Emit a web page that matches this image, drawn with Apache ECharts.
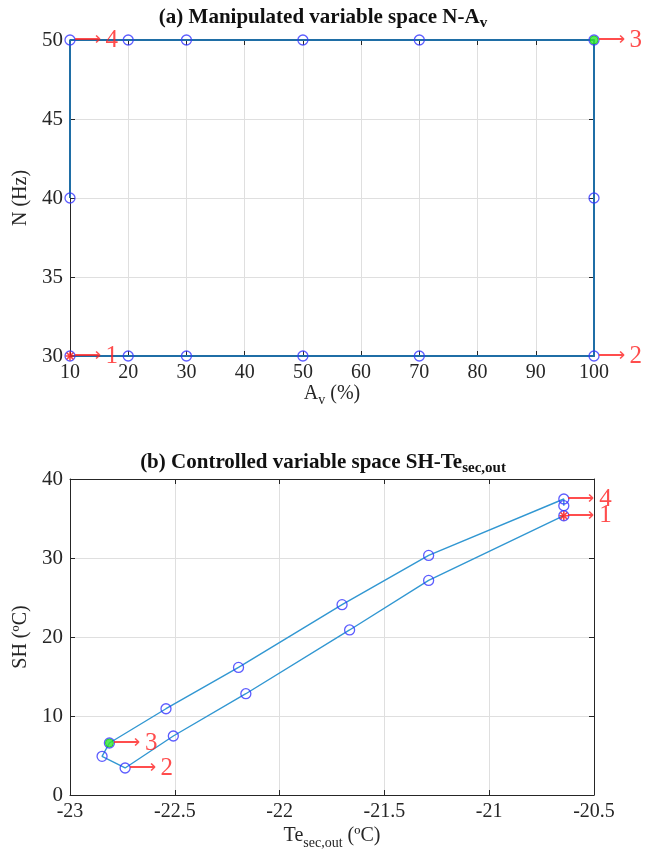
<!DOCTYPE html>
<html>
<head>
<meta charset="utf-8">
<script src="https://cdn.jsdelivr.net/npm/echarts@6/dist/echarts.min.js"></script>
<style>
  html, body { margin: 0; background: #fff; }
  #chart { width: 646px; height: 866px; }
</style>
</head>
<body>
<div id="chart"></div>
<script>
// (a) manipulated variable path, N-Av
var avValues = [10, 20, 30, 50, 70, 100, 100, 100, 70, 50, 30, 20, 10, 10];
var nValues = [30, 30, 30, 30, 30, 30, 40, 50, 50, 50, 50, 50, 50, 40];
var avTicks = [10, 20, 30, 40, 50, 60, 70, 80, 90, 100];
var nTicks = [30, 35, 40, 45, 50];

// (b) controlled variable path, SH-Te_sec,out
var teValues = [-20.644, -21.289, -21.666, -22.161, -22.507, -22.737, -22.847,
  -22.812, -22.542, -22.196, -21.702, -21.289, -20.644, -20.644];
var shValues = [35.35, 27.16, 20.89, 12.82, 7.47, 3.42, 4.89,
  6.58, 10.92, 16.15, 24.09, 30.33, 37.47, 36.62];
var teTicks = [-23, -22.5, -22, -21.5, -21, -20.5];
var shTicks = [0, 10, 20, 30, 40];

// corner numbers (index into the paths above)
var cornerIdxA = [0, 5, 7, 12];
var cornerIdxB = [0, 5, 7, 12];
var cornerNames = ["1", "2", "3", "4"];

var SERIF = "Liberation Serif";
var INK = "#262626";
var LINE_A = "#1f6ea6";
var LINE_B = "#3197d2";
var MARK = "#3535ff";

function zip(xs, ys) {
  return xs.map(function (x, i) { return [x, ys[i]]; });
}

var star = "path://M0,-5L0,5M-5,0L5,0M-3.6,-3.6L3.6,3.6M-3.6,3.6L3.6,-3.6";

var labelRich = {
  a: { fontFamily: "DejaVu Sans", fontSize: 19, color: "#ff2020", fontWeight: "lighter" },
  n: { fontFamily: SERIF, fontSize: 25, color: "#ff2020", padding: [0, 0, 0, 5] }
};

function baseAxisX(grid, ticks, name) {
  return {
    type: "value", gridIndex: grid, position: "bottom",
    min: ticks[0], max: ticks[ticks.length - 1], interval: ticks[1] - ticks[0],
    name: name, nameLocation: "middle",
    axisLine: { show: true, onZero: false, lineStyle: { color: INK, width: 1 } },
    axisTick: { show: true, inside: true, length: 5, lineStyle: { color: INK } },
    axisLabel: { fontFamily: SERIF, fontSize: 20, color: INK, margin: 7 },
    splitLine: { show: true, lineStyle: { color: "#dfdfdf", width: 1 } }
  };
}
function baseAxisY(grid, ticks, name) {
  return {
    type: "value", gridIndex: grid, position: "left",
    min: ticks[0], max: ticks[ticks.length - 1], interval: ticks[1] - ticks[0],
    name: name, nameLocation: "middle", nameRotate: 90,
    axisLine: { show: true, onZero: false, lineStyle: { color: INK, width: 1 } },
    axisTick: { show: true, inside: true, length: 5, lineStyle: { color: INK } },
    axisLabel: { fontFamily: SERIF, fontSize: 21, color: INK, margin: 7 },
    splitLine: { show: true, lineStyle: { color: "#dfdfdf", width: 1 } }
  };
}
function mirror(axis, pos) {
  var m = Object.assign({}, axis);
  m.position = pos;
  m.name = "";
  m.axisLabel = { show: false };
  m.splitLine = { show: false };
  return m;
}

var xA = baseAxisX(0, avTicks, "{m|A}{s|v}{m| (%)}");
xA.nameGap = 19;
xA.nameTextStyle = { rich: {
  m: { fontFamily: SERIF, fontSize: 20, color: INK },
  s: { fontFamily: SERIF, fontSize: 14, color: INK, padding: [12, 0, 0, 0] }
} };
var yA = baseAxisY(0, nTicks, "N (Hz)");
yA.nameGap = 37;
yA.nameTextStyle = { fontFamily: SERIF, fontSize: 20, color: INK };

var xB = baseAxisX(1, teTicks, "{m|Te}{s|sec,out}{m| (ºC)}");
xB.nameGap = 27;
xB.nameTextStyle = { rich: {
  m: { fontFamily: SERIF, fontSize: 20, color: INK },
  s: { fontFamily: SERIF, fontSize: 14, color: INK, padding: [14, 0, 0, 0] }
} };
var yB = baseAxisY(1, shTicks, "SH (ºC)");
yB.nameGap = 28;
yB.nameTextStyle = { fontFamily: SERIF, fontSize: 20, color: INK };

function pathSeries(xi, yi, pts, color, width) {
  return [
    {
      type: "line", xAxisIndex: xi, yAxisIndex: yi, data: pts, clip: false,
      showSymbol: false, z: 3, silent: true,
      lineStyle: { color: color, width: width }
    },
    {
      type: "scatter", xAxisIndex: xi, yAxisIndex: yi, data: pts, clip: false,
      symbol: "circle", symbolSize: 10, z: 4, silent: true,
      itemStyle: { color: "rgba(0,0,0,0)", borderColor: MARK, borderWidth: 1.3 }
    }
  ];
}
function specialMarks(xi, yi, pts) {
  return [
    {
      type: "scatter", xAxisIndex: xi, yAxisIndex: yi, data: [pts[0]], clip: false,
      symbol: star, symbolSize: 9, z: 5, silent: true,
      itemStyle: { color: "none", borderColor: "#ff1010", borderWidth: 1.6 }
    },
    {
      type: "scatter", xAxisIndex: xi, yAxisIndex: yi, data: [pts[7]], clip: false,
      symbol: "circle", symbolSize: 8, z: 5, silent: true,
      itemStyle: { color: "#2ee82e", borderColor: "#1cc81c", borderWidth: 1 }
    }
  ];
}
function cornerLabels(xi, yi, pts, idx) {
  return {
    type: "scatter", xAxisIndex: xi, yAxisIndex: yi, clip: false, z: 6, silent: true,
    symbolSize: 1, itemStyle: { color: "rgba(0,0,0,0)" },
    data: idx.map(function (k, i) { return { value: pts[k], name: cornerNames[i] }; }),
    label: {
      show: true, position: "right", distance: 3,
      formatter: function (p) { return "{a|\u27F6}{n|" + p.name + "}"; },
      rich: labelRich
    }
  };
}

var ptsA = zip(avValues, nValues);
var ptsB = zip(teValues, shValues);

var option = {
  animation: false,
  backgroundColor: "#fff",
  grid: [
    { left: 70, right: 52, top: 40, height: 316 },
    { left: 70, right: 52, top: 479, height: 316 }
  ],
  xAxis: [xA, mirror(xA, "top"), xB, mirror(xB, "top")],
  yAxis: [yA, mirror(yA, "right"), yB, mirror(yB, "right")],
  graphic: [
    {
      type: "text", left: "center", top: 7,
      style: {
        text: "{b|(a) Manipulated variable space N-A}{s|v}",
        rich: {
          b: { fontFamily: SERIF, fontSize: 21, fontWeight: "bold", fill: "#111" },
          s: { fontFamily: SERIF, fontSize: 15, fontWeight: "bold", fill: "#111", padding: [12, 0, 0, 0] }
        }
      }
    },
    {
      type: "text", left: "center", top: 452,
      style: {
        text: "{b|(b) Controlled variable space SH-Te}{s|sec,out}",
        rich: {
          b: { fontFamily: SERIF, fontSize: 21, fontWeight: "bold", fill: "#111" },
          s: { fontFamily: SERIF, fontSize: 15, fontWeight: "bold", fill: "#111", padding: [12, 0, 0, 0] }
        }
      }
    }
  ],
  series: []
    .concat(pathSeries(0, 0, ptsA, LINE_A, 2))
    .concat(specialMarks(0, 0, ptsA))
    .concat([cornerLabels(0, 0, ptsA, cornerIdxA)])
    .concat(pathSeries(2, 2, ptsB, LINE_B, 1.4))
    .concat(specialMarks(2, 2, ptsB))
    .concat([cornerLabels(2, 2, ptsB, cornerIdxB)])
};

var chart = echarts.init(document.getElementById("chart"));
chart.setOption(option);
</script>
</body>
</html>
